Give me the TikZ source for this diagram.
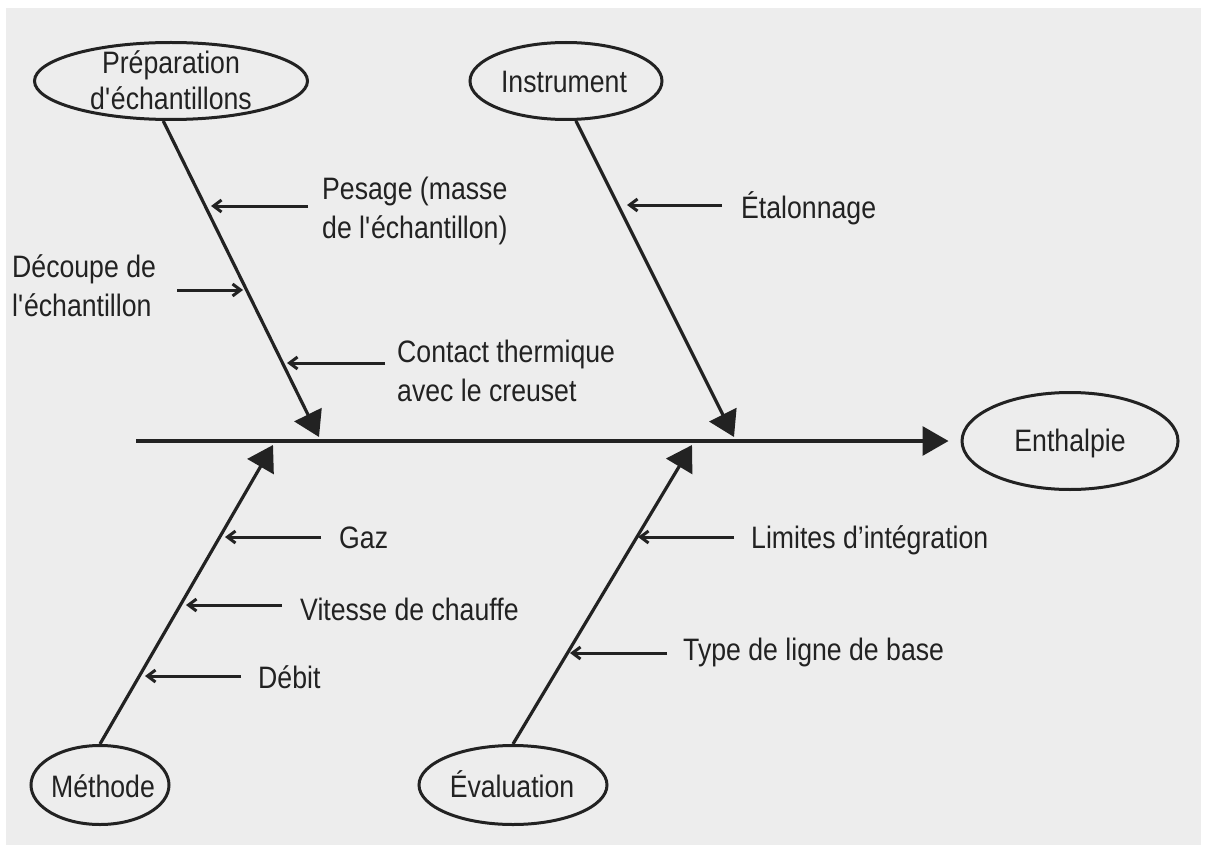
\documentclass[tikz,border=0pt]{standalone}
\usepackage{fontspec}
\setmainfont{Liberation Sans}[FakeStretch=0.86]
\usetikzlibrary{arrows.meta,shapes.geometric}
\definecolor{bg}{HTML}{EDEDED}
\definecolor{ink}{HTML}{222222}
\newcommand{\sq}{\textquotesingle}
\tikzset{
  ell/.style={draw=ink, line width=3pt, ellipse, inner sep=0pt},
  lbl/.style={font=\fontsize{31}{39}\selectfont, text=ink, inner sep=0pt, align=left},
  mainline/.style={draw=ink, line width=3.2pt, -{Triangle[length=26pt,width=29pt]}},
  branch/.style={draw=ink, line width=3.2pt, -{Triangle[length=25pt,width=30pt]}},
  small/.style={draw=ink, line width=3pt, -{Straight Barb[length=8pt,width=12pt]}}
}
\begin{document}
\begin{tikzpicture}[x=1pt,y=-1pt]
\useasboundingbox (0,0) rectangle (1206,845);
\fill[white] (0,0) rectangle (1206,845);
\fill[bg] (6,8) rectangle (1201,845);

% category ellipses
\node[ell, minimum width=273pt, minimum height=77pt] (prep) at (171,81) {};
\node[ell, minimum width=192pt, minimum height=77pt] (instr) at (566,81) {};
\node[ell, minimum width=216pt, minimum height=97pt] (enth) at (1070,441) {};
\node[ell, minimum width=138pt, minimum height=79pt] (meth) at (100,785) {};
\node[ell, minimum width=188pt, minimum height=79pt] (eval) at (513,785) {};

\node[lbl, align=center, anchor=north] (prepT) at (171,50) {Préparation\\[-3pt]d\sq échantillons};
\node[lbl, anchor=base] (instrT) at (564,93) {Instrument};
\node[lbl, anchor=base] (enthT) at (1070,451) {Enthalpie};
\node[lbl, anchor=base] (methT) at (103,797) {Méthode};
\node[lbl, anchor=base] (evalT) at (512,797) {Évaluation};

% spine
\coordinate (m0) at (136,441);
\draw[mainline, shorten >=12pt] (m0) -- (enth);

% branch tips on the spine
\coordinate (pj) at (319,437);
\coordinate (ij) at (734,437);
\coordinate (mj) at (273,445);
\coordinate (ej) at (692,445);
\draw[branch] (prep.259) -- (pj);
\draw[branch] (instr.284) -- (ij);
\draw[branch] (meth.north) -- (mj);
\draw[branch] (eval.north) -- (ej);

% cause labels
\node[lbl, anchor=north west] (pesT) at (322,177) {Pesage (masse\\de l\sq échantillon)};
\node[lbl, anchor=north west] (decT) at (12,254) {Découpe de\\l\sq échantillon};
\node[lbl, anchor=north west] (conT) at (397,340) {Contact thermique\\avec le creuset};
\node[lbl, anchor=base west] (etaT) at (741,218) {Étalonnage};
\node[lbl, anchor=base west] (gazT) at (339,548) {Gaz};
\node[lbl, anchor=base west] (vitT) at (300,620) {Vitesse de chauffe};
\node[lbl, anchor=base west] (debT) at (258,688) {Débit};
\node[lbl, anchor=base west] (limT) at (751,548) {Limites d’intégration};
\node[lbl, anchor=base west] (typT) at (683,660) {Type de ligne de base};

% cause arrows
\coordinate (pes0) at (308,206); \coordinate (pes1) at (211,206);
\coordinate (dec0) at (177,290); \coordinate (dec1) at (243,290);
\coordinate (con0) at (385,363); \coordinate (con1) at (287,363);
\coordinate (eta0) at (722,205); \coordinate (eta1) at (627,205);
\coordinate (gaz0) at (321,537); \coordinate (gaz1) at (225,537);
\coordinate (vit0) at (282,605); \coordinate (vit1) at (186,605);
\coordinate (deb0) at (241,676); \coordinate (deb1) at (145,676);
\coordinate (lim0) at (734,537); \coordinate (lim1) at (638,537);
\coordinate (typ0) at (667,653); \coordinate (typ1) at (570,653);
\draw[small] (pes0) -- (pes1);
\draw[small] (dec0) -- (dec1);
\draw[small] (con0) -- (con1);
\draw[small] (eta0) -- (eta1);
\draw[small] (gaz0) -- (gaz1);
\draw[small] (vit0) -- (vit1);
\draw[small] (deb0) -- (deb1);
\draw[small] (lim0) -- (lim1);
\draw[small] (typ0) -- (typ1);
\end{tikzpicture}
\end{document}
